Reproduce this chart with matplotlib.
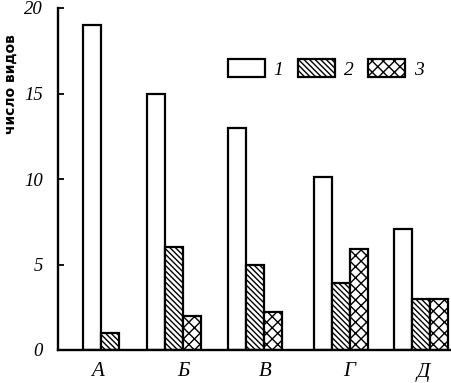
import numpy as np
import matplotlib
matplotlib.use("Agg")
import matplotlib.pyplot as plt
from matplotlib.patches import Patch

# ---- data ----
categories = ["А", "Б", "В", "Г", "Д"]
series_names = ["1", "2", "3"]
s1 = [19, 15, 13, 10.1, 7.1]
s2 = [1, 6, 5, 3.9, 3]
s3 = [0, 2, 2.2, 5.9, 3]   # group A has no third bar
yticks = [0, 5, 10, 15, 20]

# ---- layout (x in units of one bar width) ----
group_start = [1.39, 4.94, 9.44, 14.22, 18.67]
label_pos = [2.2, 6.95, 11.5, 16.2, 20.3]
SERIF = "Liberation Serif"

plt.rcParams["hatch.linewidth"] = 1.0

fig = plt.figure(figsize=(4.52, 3.83), dpi=100)
ax = fig.add_axes([58 / 452, 1 - 350 / 383, 1 - 58 / 452, (350 - 8) / 383])

hatches = [None, "\\\\\\\\\\\\", "xxx"]
for k, vals in enumerate([s1, s2, s3]):
    for g, v in enumerate(vals):
        if v <= 0:
            continue
        ax.bar(group_start[g] + k, v, width=1, align="edge",
               facecolor="white", edgecolor="black", linewidth=1.6,
               hatch=hatches[k])

ax.set_xlim(0, 394 / 18)
ax.set_ylim(0, 20)
for side in ["top", "right"]:
    ax.spines[side].set_visible(False)
for side in ["left", "bottom"]:
    ax.spines[side].set_linewidth(1.7)

ax.set_yticks(yticks)
ax.set_yticklabels([str(t) for t in yticks], family=SERIF, style="italic",
                   fontsize=13.5)
ax.tick_params(axis="y", direction="in", length=4, width=1.3, pad=11)

ax.set_xticks(label_pos)
ax.set_xticklabels(categories, family=SERIF, style="italic", fontsize=15)
ax.tick_params(axis="x", length=0, pad=9)

fig.text(11 / 452, 1 - 84 / 383, "число видов", rotation=90,
         ha="center", va="center", fontsize=10, fontweight="bold",
         family="DejaVu Sans")

handles = [Patch(facecolor="white", edgecolor="black", linewidth=1.6,
                 hatch=h) for h in hatches]
leg = ax.legend(handles, series_names, ncol=3, frameon=False,
                loc="center left", bbox_to_anchor=(228 / 452, 1 - 69 / 383),
                bbox_transform=fig.transFigure, borderpad=0,
                borderaxespad=0, handlelength=1.9, handleheight=1.0,
                handletextpad=0.45, columnspacing=0.75,
                prop={"family": SERIF, "style": "italic", "size": 14})

fig.savefig("out.png", dpi=100)
